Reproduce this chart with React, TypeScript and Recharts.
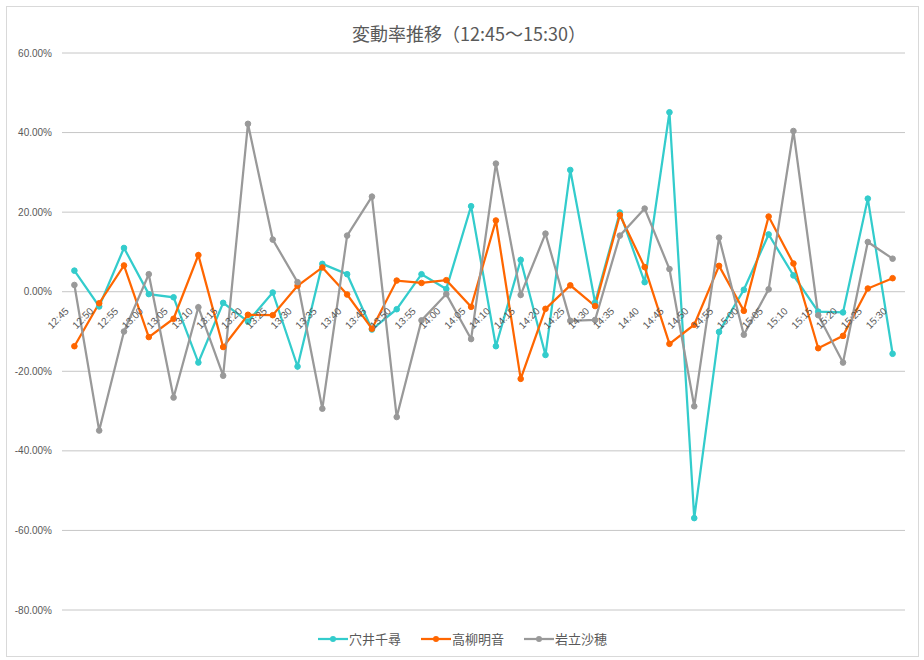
import React from 'react';
import { LineChart, Line, XAxis, YAxis, CartesianGrid, Legend } from 'recharts';

const times = [
  '12:45', '12:50', '12:55', '13:00', '13:05', '13:10', '13:15', '13:20', '13:25', '13:30',
  '13:35', '13:40', '13:45', '13:50', '13:55', '14:00', '14:05', '14:10', '14:15', '14:20',
  '14:25', '14:30', '14:35', '14:40', '14:45', '14:50', '14:55', '15:00', '15:05', '15:10',
  '15:15', '15:20', '15:25', '15:30',
];

const anaiChihiro = [
  5.3, -3.7, 11.0, -0.6, -1.4, -17.8, -2.8, -7.5, -0.2, -18.8,
  7.0, 4.4, -9.5, -4.4, 4.4, 0.7, 21.5, -13.7, 8.0, -15.9,
  30.6, -2.7, 19.9, 2.4, 45.1, -56.9, -10.1, 0.5, 14.4, 4.1,
  -5.0, -5.2, 23.4, -15.6,
];

const takayanagiAkane = [
  -13.7, -2.9, 6.6, -11.4, -6.8, 9.2, -13.9, -5.8, -5.9, 1.5,
  6.1, -0.7, -9.3, 2.8, 2.2, 2.9, -3.8, 17.9, -21.9, -4.3,
  1.6, -3.6, 19.3, 6.2, -13.1, -8.3, 6.5, -4.8, 18.9, 7.1,
  -14.2, -11.1, 0.8, 3.4,
];

const iwatateSaho = [
  1.7, -34.9, -10.0, 4.4, -26.6, -3.9, -21.1, 42.2, 13.1, 2.4,
  -29.4, 14.1, 23.9, -31.5, -7.2, -0.6, -11.9, 32.2, -0.8, 14.6,
  -7.3, -7.1, 14.1, 20.9, 5.7, -28.8, 13.6, -10.8, 0.6, 40.4,
  -5.9, -17.8, 12.5, 8.3,
];

const seriesNames = ['穴井千尋', '高柳明音', '岩立沙穂'];
const seriesKeys = ['a', 'b', 'c'];
const seriesColors = ['#33cccc', '#ff6600', '#999999'];
const yTicks = [-80, -60, -40, -20, 0, 20, 40, 60];
const titleText = '変動率推移（12:45～15:30）';

const data = times.map((t, i) => ({
  time: t,
  a: anaiChihiro[i],
  b: takayanagiAkane[i],
  c: iwatateSaho[i],
}));

const W = 911;
const H = 649;
const MARGIN = { top: 46, right: 13, left: 0, bottom: 0 };
const X_AXIS_H = 46;
const Y_AXIS_W = 55;
const Y_MIN = -80;
const Y_MAX = 60;
const PLOT_W = W - MARGIN.left - MARGIN.right - Y_AXIS_W;
const PLOT_H = H - MARGIN.top - MARGIN.bottom - X_AXIS_H;
const ZERO_Y = MARGIN.top + (PLOT_H * (Y_MAX - 0)) / (Y_MAX - Y_MIN);
const HALF_BAND = PLOT_W / times.length / 2;

const TEXT_COLOR = '#595959';
const FONT = '"Liberation Sans", Arial, sans-serif';
const CJK_FONT = '"Noto Sans CJK JP", "Noto Sans", sans-serif';

const XTick = (props: any) => {
  const { x, payload } = props;
  const px = x - 5;
  const py = ZERO_Y + 20;
  return (
    <text
      x={px}
      y={py}
      transform={`rotate(-45 ${px} ${py})`}
      textAnchor="end"
      fontSize={10}
      fontFamily={FONT}
      fill={TEXT_COLOR}
    >
      {payload.value}
    </text>
  );
};

const LegendContent = () => (
  <div
    style={{
      display: 'flex',
      justifyContent: 'center',
      alignItems: 'center',
      height: 20,
      fontFamily: CJK_FONT,
      fontSize: 13,
      color: TEXT_COLOR,
    }}
  >
    {seriesNames.map((name, i) => (
      <div key={name} style={{ display: 'flex', alignItems: 'center', marginLeft: i ? 20 : 0 }}>
        <svg width={30} height={10} style={{ display: 'block' }}>
          <line x1={0} y1={5} x2={30} y2={5} stroke={seriesColors[i]} strokeWidth={2.25} />
          <circle cx={15} cy={5} r={3} fill={seriesColors[i]} />
        </svg>
        <span style={{ marginLeft: 1, lineHeight: '20px' }}>{name}</span>
      </div>
    ))}
  </div>
);

export default function App() {
  return (
    <div
      style={{
        position: 'absolute',
        left: 6,
        top: 6,
        width: W,
        height: H,
        border: '1px solid #d9d9d9',
        background: '#ffffff',
      }}
    >
      <div
        style={{
          position: 'absolute',
          top: 14,
          left: 462,
          transform: 'translateX(-50%)',
          whiteSpace: 'nowrap',
          fontFamily: CJK_FONT,
          fontSize: 18,
          lineHeight: '24px',
          color: TEXT_COLOR,
        }}
      >
        {titleText}
      </div>
      <LineChart width={W} height={H} data={data} margin={MARGIN}>
        <CartesianGrid vertical={false} stroke="#c6c6c6" strokeWidth={1} />
        <XAxis
          dataKey="time"
          height={X_AXIS_H}
          axisLine={false}
          tickLine={false}
          interval={0}
          padding={{ left: HALF_BAND, right: HALF_BAND }}
          tick={<XTick />}
        />
        <YAxis
          width={Y_AXIS_W}
          domain={[Y_MIN, Y_MAX]}
          ticks={yTicks}
          allowDataOverflow
          axisLine={false}
          tickLine={false}
          tickSize={6}
          tickMargin={4}
          tickFormatter={(v: number) => `${v.toFixed(2)}%`}
          tick={{ fontSize: 10, fontFamily: FONT, fill: TEXT_COLOR }}
        />
        {seriesKeys.map((k, i) => (
          <Line
            key={k}
            type="linear"
            dataKey={k}
            name={seriesNames[i]}
            stroke={seriesColors[i]}
            strokeWidth={2.25}
            dot={{ r: 2.8, fill: seriesColors[i], stroke: seriesColors[i], strokeWidth: 1 }}
            activeDot={false}
            isAnimationActive={false}
          />
        ))}
        <Legend
          layout="horizontal"
          verticalAlign="middle"
          align="center"
          content={<LegendContent />}
          wrapperStyle={{ top: 622, left: 0, width: W, height: 20 }}
        />
      </LineChart>
    </div>
  );
}
